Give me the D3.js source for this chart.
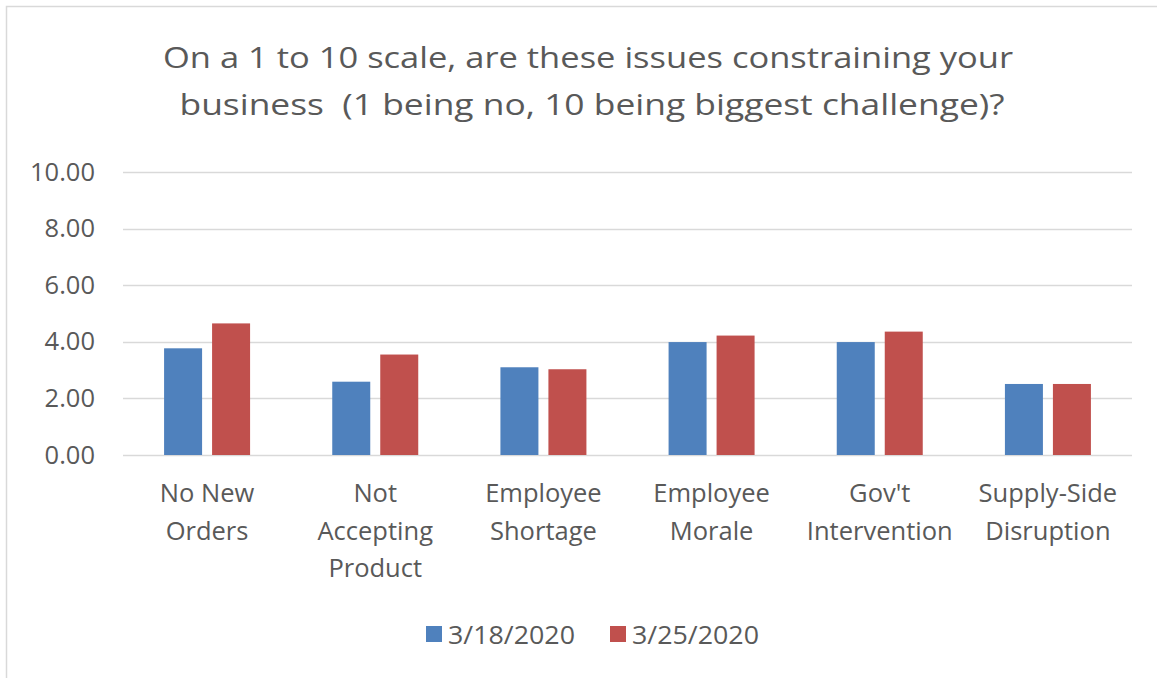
<!DOCTYPE html>
<html>
<head>
<meta charset="utf-8">
<script src="https://cdn.jsdelivr.net/npm/d3@7/dist/d3.min.js"></script>
<style>
  html, body { margin: 0; padding: 0; background: #fff; }
  svg { display: block; }
  text { font-family: "Open Sans", "Lato", sans-serif; fill: #595959; white-space: pre; }
</style>
</head>
<body>
<svg id="chart" width="1157" height="678"></svg>
<script>
const titleLines = [
  "On a 1 to 10 scale, are these issues constraining your",
  "business  (1 being no, 10 being biggest challenge)?"
];
const categories = [
  ["No New", "Orders"],
  ["Not", "Accepting", "Product"],
  ["Employee", "Shortage"],
  ["Employee", "Morale"],
  ["Gov't", "Intervention"],
  ["Supply-Side", "Disruption"]
];
const seriesNames = ["3/18/2020", "3/25/2020"];
const series1 = [3.77, 2.59, 3.10, 3.99, 3.99, 2.51];
const series2 = [4.65, 3.55, 3.03, 4.22, 4.36, 2.51];
const colors = ["#4F81BD", "#C0504D"];
const yTicks = [0, 2, 4, 6, 8, 10];

const svg = d3.select("#chart");
const W = 1157, H = 678;

// outer border (chart area frame, partially cropped)
svg.append("rect").attr("x", 6.5).attr("y", 6.5).attr("width", W + 20).attr("height", H + 20)
  .attr("fill", "#fff").attr("stroke", "#D9D9D9").attr("stroke-width", 1.5);

// title
const titleWidths = [850, 825];
svg.append("g").selectAll("text").data(titleLines).join("text")
  .attr("x", (d, i) => i === 0 ? 588 : 592)
  .attr("y", (d, i) => 68 + i * 47)
  .attr("text-anchor", "middle")
  .attr("font-size", 30)
  .attr("textLength", (d, i) => titleWidths[i])
  .attr("lengthAdjust", "spacingAndGlyphs")
  .text(d => d);

const catKeys = categories.map(c => c.join(" "));
const x0 = d3.scaleBand().domain(catKeys).range([123, 1132]).paddingInner(0.4886).paddingOuter(0.2443);
const x1 = d3.scaleBand().domain(seriesNames).range([0, x0.bandwidth()]).paddingInner(0.2083);
const y = d3.scaleLinear().domain([0, 10]).range([455, 172]);

// gridlines
svg.append("g").selectAll("line").data(yTicks).join("line")
  .attr("x1", 123).attr("x2", 1132)
  .attr("y1", d => Math.round(y(d)) + 0.5).attr("y2", d => Math.round(y(d)) + 0.5)
  .attr("stroke", "#D9D9D9").attr("stroke-width", 1.5);

// y axis labels
const yAxis = d3.axisLeft(y).tickValues(yTicks).tickFormat(d3.format(".2f")).tickSize(0).tickPadding(0);
const yg = svg.append("g").attr("transform", "translate(95,0)").call(yAxis);
yg.select(".domain").remove();
yg.selectAll("text").attr("font-size", 25.5).attr("fill", "#595959")
  .attr("font-family", "'Open Sans', sans-serif");

// bars
const data = catKeys.map((k, i) => ({ key: k, vals: [series1[i], series2[i]] }));
const groups = svg.append("g").selectAll("g").data(data).join("g")
  .attr("transform", d => `translate(${x0(d.key)},0)`);
groups.selectAll("rect").data(d => d.vals.map((v, j) => ({ name: seriesNames[j], v, j }))).join("rect")
  .attr("x", d => x1(d.name))
  .attr("width", x1.bandwidth())
  .attr("y", d => y(d.v))
  .attr("height", d => y(0) - y(d.v))
  .attr("fill", d => colors[d.j]);

// category labels
const catG = svg.append("g").selectAll("text").data(categories).join("text")
  .attr("text-anchor", "middle")
  .attr("font-size", 25.5);
catG.selectAll("tspan").data((d, i) => d.map(l => ({ l, i }))).join("tspan")
  .attr("x", d => x0(catKeys[d.i]) + x0.bandwidth() / 2)
  .attr("y", (d, j) => 502 + j * 37.5)
  .text(d => d.l);

// legend
const legendX = [426, 610];
const lg = svg.append("g").selectAll("g").data(seriesNames).join("g")
  .attr("transform", (d, i) => `translate(${legendX[i]},0)`);
lg.append("rect").attr("x", 0).attr("y", 626).attr("width", 16).attr("height", 16)
  .attr("fill", (d, i) => colors[i]);
lg.append("text").attr("x", 22).attr("y", 644).attr("font-size", 25)
  .attr("textLength", 127).attr("lengthAdjust", "spacingAndGlyphs")
  .text(d => d);
</script>
</body>
</html>
